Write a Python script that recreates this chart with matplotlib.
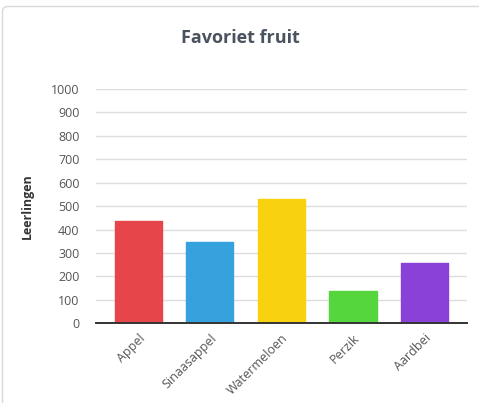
import matplotlib.pyplot as plt
from matplotlib.patches import FancyBboxPatch

fruits = ["Appel", "Sinaasappel", "Watermeloen", "Perzik", "Aardbei"]
leerlingen = [435, 345, 530, 138, 257]
colors = ["#e6454a", "#35a2de", "#f8d20e", "#55d63d", "#8a41d8"]
yticks = [0, 100, 200, 300, 400, 500, 600, 700, 800, 900, 1000]

plt.rcParams['font.family'] = ['Open Sans', 'DejaVu Sans']

fig = plt.figure(figsize=(4.79, 4.03), dpi=100)
fig.patch.set_facecolor("white")

# card border (runs off the right and bottom of the image)
card = FancyBboxPatch((2.5 / 479, -0.1), 1.2, 1 - 6.5 / 403 + 0.1,
                      boxstyle="round,pad=0,rounding_size=0.012",
                      transform=fig.transFigure, facecolor="white",
                      edgecolor="#d9d9d9", linewidth=1.0, zorder=-1)
fig.patches.append(card)

ax = fig.add_axes([96 / 479, (403 - 323.3) / 403, (466.7 - 96) / 479, (323.3 - 89) / 403])
ax.set_facecolor("none")

x = range(len(fruits))
ax.bar(x, leerlingen, width=0.66, color=colors, edgecolor=colors,
       linewidth=1.0, joinstyle="round", zorder=3)

ax.set_xlim(-0.59, 4.59)
ax.set_ylim(0, 1000)
ax.set_yticks(yticks)
ax.set_yticklabels([str(t) for t in yticks])
ax.set_xticks(list(x))
ax.set_xticklabels(fruits, rotation=45, ha="right", rotation_mode="anchor")

ax.grid(axis="y", color="#dddddd", linewidth=1.0, zorder=0)
for side in ["top", "right", "left"]:
    ax.spines[side].set_visible(False)
ax.spines["bottom"].set_color("#333333")
ax.spines["bottom"].set_linewidth(1.4)
ax.spines["bottom"].set_zorder(4)

ax.tick_params(axis="y", length=0, pad=12, labelsize=9, labelcolor="#555555")
ax.tick_params(axis="x", length=0, pad=6, labelsize=9, labelcolor="#555555")

ax.set_ylabel("Leerlingen", fontsize=9, fontweight="bold", color="#333333", labelpad=12)

fig.text(240 / 479, 1 - 38 / 403, "Favoriet fruit", ha="center", va="center",
         fontsize=13, fontweight="bold", color="#4a5260")

fig.savefig("out.png", dpi=100)
